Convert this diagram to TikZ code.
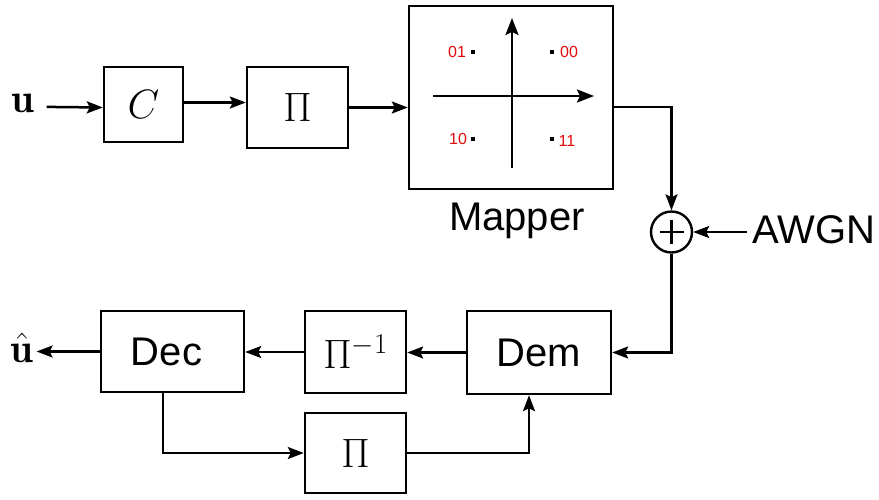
\RequirePackage{fix-cm}
\documentclass[tikz,border=0pt]{standalone}
\usepackage{fontspec}
\newfontfamily\lsans{Liberation Sans}
\usetikzlibrary{arrows.meta,calc}
\definecolor{lblred}{RGB}{225,10,10}
\begin{document}
\begin{tikzpicture}[x=1pt,y=-1pt,
  blk/.style={draw, line width=2.4pt, inner sep=0pt, font=\fontsize{41}{48}\selectfont},
  conn/.style={line width=2.5pt, -{Stealth[length=16pt,width=12pt,inset=3pt]}},
  axis/.style={line width=2.5pt, -{Stealth[length=17pt,width=13pt,inset=3pt]}},
  big/.style={font=\fontsize{40}{48}\selectfont\lsans},
  lbl/.style={font=\fontsize{16}{18}\selectfont\lsans, text=lblred, inner sep=0pt},
  mathlbl/.style={font=\fontsize{41}{48}\selectfont, inner sep=0pt}
]
\useasboundingbox (0,0) rectangle (879,499);
% top row
\node[mathlbl, anchor=base] (u) at (23,112) {$\mathbf{u}$};
\node[blk, minimum width=79pt, minimum height=75pt] (C) at (143.5,104.5) {$C$};
\node[blk, minimum width=101pt, minimum height=81pt] (P1) at (297.5,107.5) {$\Pi$};
\node[draw, line width=2.4pt, minimum width=204pt, minimum height=183pt, inner sep=0pt] (map) at (511,97.5) {};
\node[big, anchor=base] (maplbl) at (517,230) {Mapper};
% constellation
\coordinate (xl) at (433,96);
\coordinate (xr) at (594,96);
\coordinate (yb) at (512,168);
\coordinate (yt) at (512,18);
\draw[axis] (xl) -- (xr);
\draw[axis] (yb) -- (yt);
\coordinate (d01) at (473,52);
\coordinate (d00) at (552,52);
\coordinate (d10) at (473,139);
\coordinate (d11) at (552,139);
\foreach \d in {d01,d00,d10,d11}{\fill ($(\d)+(-1.8,-1.8)$) rectangle ($(\d)+(1.8,1.8)$);}
\node[lbl] (l01) at (457,52) {01};
\node[lbl] (l00) at (569,52) {00};
\node[lbl] (l10) at (458,139) {10};
\node[lbl] (l11) at (567,141) {11};
% adder
\node[draw, circle, line width=2.4pt, minimum size=41pt, inner sep=0pt] (sum) at (671.5,232) {};
\draw[line width=2.5pt] ([xshift=-12pt]sum.center) -- ([xshift=12pt]sum.center);
\draw[line width=2.5pt] ([yshift=-12pt]sum.center) -- ([yshift=12pt]sum.center);
\node[big, anchor=base] (awgn) at (814,243) {AWGN};
% bottom
\node[blk, font=\fontsize{40}{48}\selectfont\lsans, minimum width=143pt, minimum height=81pt, text width=143pt, align=center] (Dec) at (172.5,351.5) {\hspace*{-12pt}Dec};
\node[blk, minimum width=101pt, minimum height=82pt] (Pinv) at (355.5,352) {$\Pi^{-1}$};
\node[blk, font=\fontsize{40}{48}\selectfont\lsans, minimum width=144pt, minimum height=83pt] (Dem) at (539,352.5) {Dem};
\node[blk, minimum width=101pt, minimum height=80pt] (P2) at (355.5,453) {$\Pi$};
\node[mathlbl, anchor=base] (uh) at (22,362) {$\hat{\mathbf{u}}$};
% connectors
\draw[conn] ([xshift=12pt,yshift=-4pt]u.east) -- ([yshift=-3pt]C.west);
\draw[conn] ([yshift=2pt]C.east) -- ([yshift=2pt]C.east -| P1.west);
\draw[conn] (P1.east) -- (P1.east -| map.west);
\draw[conn] ([yshift=-9.5pt]map.east) -| (sum.north);
\draw[conn] ([xshift=-2pt]awgn.west |- sum.east) -- (sum.east);
\draw[conn] (sum.south) |- (Dem.east);
\draw[conn] (Dem.west) -- (Dem.west -| Pinv.east);
\draw[conn] (Pinv.west) -- (Pinv.west -| Dec.east);
\draw[conn] (Dec.west) -- ([xshift=3pt]Dec.west -| uh.east);
\draw[conn] ([xshift=-9.5pt]Dec.south) |- (P2.west);
\draw[conn] (P2.east) -| ([xshift=-10pt]Dem.south);
\end{tikzpicture}
\end{document}
